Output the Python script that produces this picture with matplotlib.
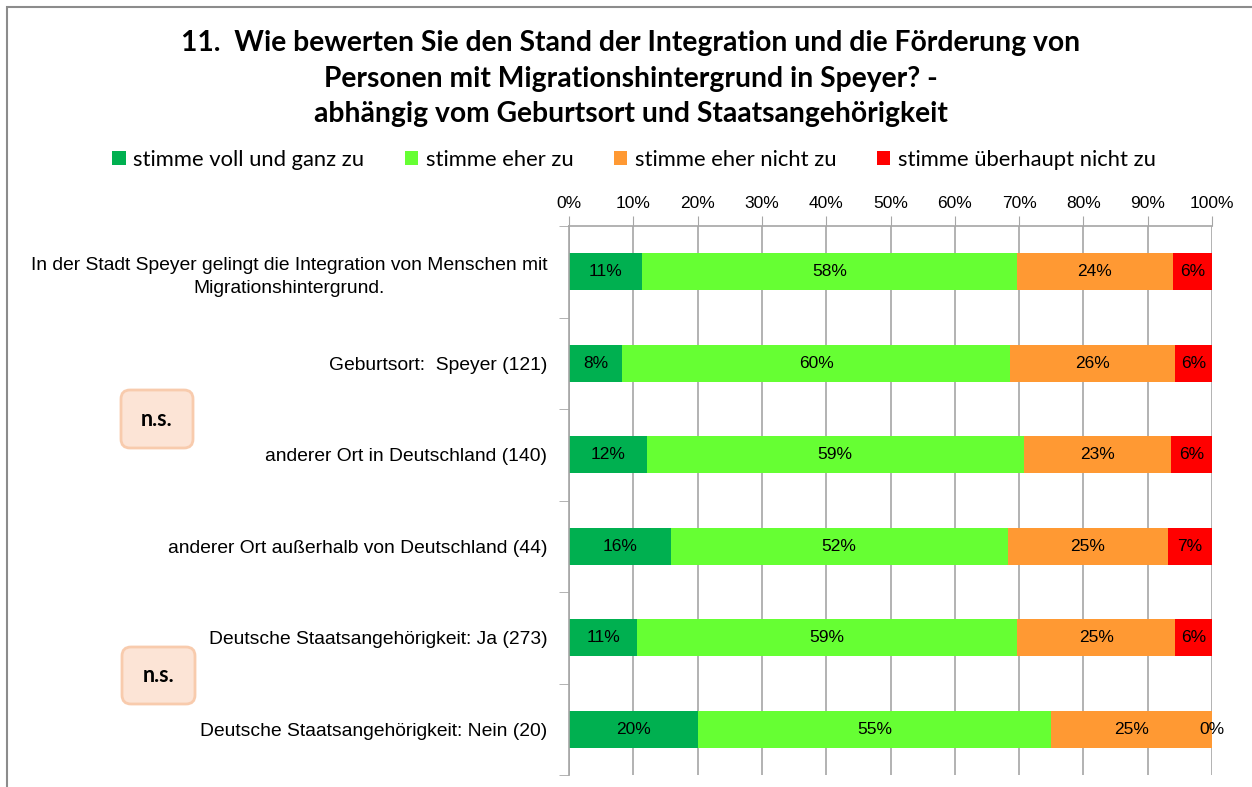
import matplotlib
matplotlib.use("Agg")
import matplotlib.pyplot as plt
from matplotlib.patches import Patch, Rectangle, FancyBboxPatch
import numpy as np

# ---------------- data ----------------
categories = [
    "In der Stadt Speyer gelingt die Integration von Menschen mit\nMigrationshintergrund.",
    "Geburtsort:  Speyer (121)",
    "anderer Ort in Deutschland (140)",
    "anderer Ort außerhalb von Deutschland (44)",
    "Deutsche Staatsangehörigkeit: Ja (273)",
    "Deutsche Staatsangehörigkeit: Nein (20)",
]
series_names = ["stimme voll und ganz zu", "stimme eher zu",
                "stimme eher nicht zu", "stimme überhaupt nicht zu"]
voll_und_ganz = [11.4, 8.3, 12.1, 15.8, 10.6, 20.0]
eher_zu = [58.3, 60.3, 58.6, 52.4, 59.1, 55.0]
eher_nicht = [24.2, 25.6, 22.9, 25.0, 24.6, 25.0]
ueberhaupt_nicht = [6.1, 5.8, 6.4, 6.8, 5.7, 0.0]
x_ticks = [0, 10, 20, 30, 40, 50, 60, 70, 80, 90, 100]
title_lines = [
    "11.  Wie bewerten Sie den Stand der Integration und die Förderung von",
    "Personen mit Migrationshintergrund in Speyer? -",
    "abhängig vom Geburtsort und Staatsangehörigkeit",
]
ns_label = "n.s."

# ---------------- style ----------------
colors = ["#00B050", "#66FF33", "#FF9933", "#FF0000"]
W, H = 1252, 787
fig = plt.figure(figsize=(W / 100, H / 100), dpi=100)

ax_left, ax_right, ax_top, ax_bot = 569, 1212, 226, 775
ax = fig.add_axes([ax_left / W, 1 - ax_bot / H, (ax_right - ax_left) / W, (ax_bot - ax_top) / H])

series = [voll_und_ganz, eher_zu, eher_nicht, ueberhaupt_nicht]
y = np.arange(len(categories))
left = np.zeros(len(categories))
for vals, col, name in zip(series, colors, series_names):
    vals = np.array(vals)
    bars = ax.barh(y, vals, left=left, height=0.4, color=col, label=name, zorder=2)
    ax.bar_label(bars, labels=[f"{v:.0f}%" for v in vals], label_type="center",
                 fontsize=12.5, family="Liberation Sans", color="black")
    left += vals

ax.set_xlim(0, 100)
ax.set_ylim(len(categories) - 0.5, -0.5)
ax.set_xticks(x_ticks)
ax.set_xticklabels([f"{t}%" for t in x_ticks], family="Liberation Sans", fontsize=12.5)
ax.xaxis.tick_top()
ax.tick_params(axis="x", which="major", direction="out", length=7, color="#A6A6A6", pad=4)
ax.xaxis.grid(True, color="#A6A6A6", lw=1.2, zorder=0)
ax.set_axisbelow(True)

ax.set_yticks(y)
ax.set_yticklabels(categories, family="Liberation Sans", fontsize=13.9)
for lbl in ax.get_yticklabels():
    lbl.set_multialignment("center")
    lbl.set_linespacing(1.5)
ax.tick_params(axis="y", which="major", length=0, pad=15.5)
ax.set_yticks(np.arange(-0.5, len(categories), 1.0), minor=True)
ax.tick_params(axis="y", which="minor", length=7, color="#A6A6A6", direction="out")

for s in ["right", "bottom"]:
    ax.spines[s].set_visible(False)
for s in ["top", "left"]:
    ax.spines[s].set_color("#A6A6A6")
    ax.spines[s].set_linewidth(1.2)

# title
title_y = [43, 79, 114]
for line, ty in zip(title_lines, title_y):
    fig.text(631 / W, 1 - ty / H, line, ha="center", va="center",
             fontsize=20.3, fontweight="bold", family="Lato")

# legend
handles = [Patch(facecolor=c, edgecolor="none") for c in colors]
fig.legend(handles, series_names, loc="center", bbox_to_anchor=(634 / W, 1 - 160 / H),
           ncol=4, frameon=False, prop={"family": "Lato", "size": 15.8},
           handlelength=0.6, handleheight=0.6, handletextpad=0.35, columnspacing=1.85)

# n.s. boxes
for (x0, x1, y0, y1) in [(121, 193, 390, 448), (122, 195, 647, 704)]:
    box = FancyBboxPatch((x0 / 100, (H - y1) / 100), (x1 - x0) / 100, (y1 - y0) / 100,
                         boxstyle="round,pad=0,rounding_size=0.09",
                         transform=fig.dpi_scale_trans, facecolor="#FCE4D6",
                         edgecolor="#F8CBAD", lw=2)
    fig.add_artist(box)
    fig.text((x0 + x1) / 2 / W, 1 - (y0 + y1) / 2 / H, ns_label, ha="center", va="center",
             fontsize=15.5, fontweight="bold", family="Lato")

# chart frame
fig.add_artist(Rectangle((7 / W, -0.1), 2, 1 - 7 / H + 0.1, transform=fig.transFigure,
                         fill=False, edgecolor="#8C8C8C", lw=1.5))

fig.savefig("out.png", dpi=100)
